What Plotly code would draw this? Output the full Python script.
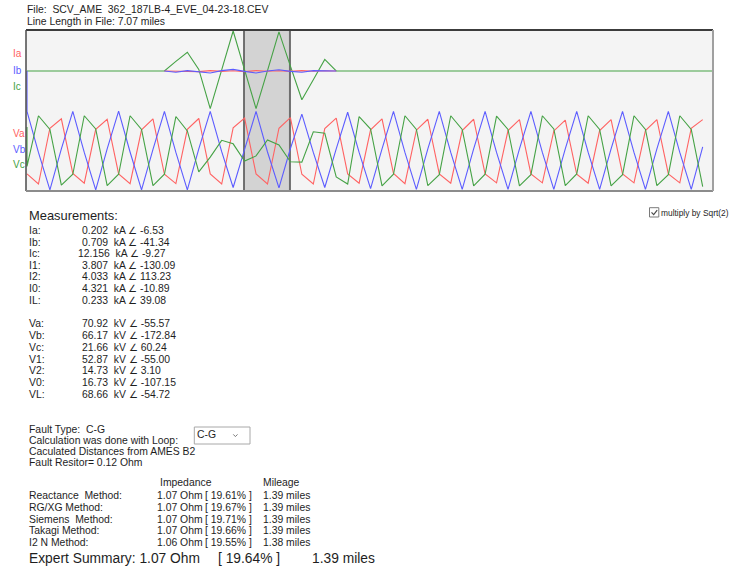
import plotly.graph_objects as go

# ---------------- data ----------------
file_name = "SCV_AME\u00a0 362_187LB-4_EVE_04-23-18.CEV"
line_length = "7.07 miles"

# sample index axis; currents/voltages in per-unit of the plotted peak
va = [-0.59, -0.85, 0.58, 0.82, -0.58, -0.83, 0.55, 0.81, -0.59, -0.84, 0.54, 0.82,
      -0.60, -0.84, 0.55, 0.83, -0.59, -0.85, 0.59, 0.84, -0.59, -0.85, 0.58, 0.85,
      -0.60, -0.85, 0.57, 0.84, -0.59, -0.83, 0.54, 0.82, -0.58, -0.84, 0.53, 0.81,
      -0.59, -0.83, 0.52, 0.81, -0.59, -0.82, 0.52, 0.80, -0.59, -0.82, 0.51, 0.79,
      -0.60, -0.83, 0.52, 0.80, -0.59, -0.82, 0.52, 0.80, -0.59, -0.82, 0.58, 0.80]
vb = [1.01, -0.04, -1.00, 0.05, 1.01, -0.04, -1.00, 0.05, 1.02, -0.03, -1.00, 0.04,
      1.01, -0.04, -1.00, 0.05, 1.01, -0.02, -0.94, 0.04, 1.01, -0.03, -0.95, 0.06,
      0.94, -0.04, -0.94, 0.05, 0.99, -0.04, -0.97, 0.05, 1.01, -0.04, -0.99, 0.05,
      1.01, -0.04, -0.99, 0.05, 1.01, -0.04, -0.99, 0.05, 1.01, -0.04, -0.99, 0.05,
      1.01, -0.04, -0.99, 0.05, 1.01, -0.04, -0.99, 0.05, 1.01, -0.04, -0.99, 0.10]
vc = [-0.40, 0.90, 0.55, -0.88, -0.60, 0.90, 0.56, -0.89, -0.60, 0.90, 0.55, -0.89,
      -0.60, 0.88, 0.51, -0.54, -0.16, 0.27, 0.18, -0.26, -0.13, 0.28, 0.15, -0.28,
      -0.29, 0.49, 0.45, -0.67, -0.85, 0.88, 0.56, -0.90, -0.60, 0.90, 0.55, -0.89,
      -0.61, 0.90, 0.55, -0.90, -0.60, 0.89, 0.55, -0.90, -0.61, 0.90, 0.56, -0.89,
      -0.59, 0.90, 0.55, -0.90, -0.61, 0.90, 0.55, -0.89, -0.61, 0.90, 0.55, -0.92]
vb_start = 2.05   # first drawn point of Vb (glitch at the left edge)
vc_start = 0.61   # first drawn point of Vc

ic = [0, 0, 0, 0, 0, 0, 0, 0, 0, 0, 0, 0,
      0, 0.24, 0.47, 0.04, -0.94, 0.03, 1.00, 0.03, -0.94, 0.01, 0.98, 0.12,
      -0.72, -0.22, 0.29, 0, 0, 0, 0, 0, 0, 0, 0, 0,
      0, 0, 0, 0, 0, 0, 0, 0, 0, 0, 0, 0,
      0, 0, 0, 0, 0, 0, 0, 0, 0, 0, 0, 0, 0]
fault_first_sample = 12
ia_fault = [0, -0.01, -0.005, -0.015, 0.01, -0.01, 0.005, -0.015, 0.01, -0.005, 0.005, -0.01, 0.01, -0.005, 0.005, 0]
ib_fault = [0, -0.03, 0.01, -0.02, -0.05, 0.01, 0.04, -0.01, -0.05, 0.0, 0.03, -0.01, -0.03, 0.01, 0.01, 0]

cursor_start = 18.95
cursor_end = 22.96

current_names = ["Ia", "Ib", "Ic"]
voltage_names = ["Va", "Vb", "Vc"]

meas_current_labels = ["Ia:", "Ib:", "Ic:", "I1:", "I2:", "I0:", "IL:"]
meas_current_mag = ["0.202", "0.709", "12.156", "3.807", "4.033", "4.321", "0.233"]
meas_current_ang = ["-6.53", "-41.34", "-9.27", "-130.09", "113.23", "-10.89", "39.08"]
meas_voltage_labels = ["Va:", "Vb:", "Vc:", "V1:", "V2:", "V0:", "VL:"]
meas_voltage_mag = ["70.92", "66.17", "21.66", "52.87", "14.73", "16.73", "68.66"]
meas_voltage_ang = ["-55.57", "-172.84", "60.24", "-55.00", "3.10", "-107.15", "-54.72"]

fault_type = "C-G"
loop = "C-G"
from_bus = "AMES B2"
fault_resistor = "0.12"

methods = ["Reactance\u00a0 Method:", "RG/XG Method:", "Siemens\u00a0 Method:", "Takagi Method:", "I2 N Method:"]
impedance_ohm = ["1.07", "1.07", "1.07", "1.07", "1.06"]
percent = ["19.61", "19.67", "19.71", "19.66", "19.55"]
mileage = ["1.39", "1.39", "1.39", "1.39", "1.38"]
summary_ohm = "1.07"
summary_pct = "19.64"
summary_miles = "1.39"

# ---------------- styling / layout ----------------
W, H = 730, 569
PL, PR, PT, PB = 26, 713, 30, 191
FONT = "Liberation Sans, Arial, sans-serif"
TXT = "#1e1e1e"
RED, BLUE, GREEN = "#ff6262", "#5c5cff", "#45a245"
SMALL = 10.4
LW = 1.1

def px(x):
    return (x - PL) / (PR - PL)

def py(y):
    return (PB - y) / (PB - PT)

n = len(va)
xs = list(range(n))
fig = go.Figure()

# currents (upper band, yaxis y)
fig.add_trace(go.Scatter(x=list(range(len(ic))), y=ic, mode="lines",
                         line=dict(color=GREEN, width=LW), hoverinfo="skip", yaxis="y"))
fx = list(range(fault_first_sample, fault_first_sample + len(ia_fault)))
fig.add_trace(go.Scatter(x=fx, y=ia_fault, mode="lines",
                         line=dict(color=RED, width=LW), hoverinfo="skip", yaxis="y"))
fig.add_trace(go.Scatter(x=fx, y=ib_fault, mode="lines",
                         line=dict(color=BLUE, width=LW), hoverinfo="skip", yaxis="y"))

# voltages (lower band, yaxis y2)
fig.add_trace(go.Scatter(x=xs, y=va, mode="lines",
                         line=dict(color=RED, width=LW), hoverinfo="skip", yaxis="y2"))
fig.add_trace(go.Scatter(x=[0] + xs, y=[vb_start] + vb, mode="lines",
                         line=dict(color=BLUE, width=LW), hoverinfo="skip", yaxis="y2"))
fig.add_trace(go.Scatter(x=[0] + xs, y=[vc_start] + vc, mode="lines",
                         line=dict(color=GREEN, width=LW), hoverinfo="skip", yaxis="y2"))

spacing = (702.7 - 27) / (n - 1)
x0 = -(27 - PL) / spacing
x1 = x0 + (PR - PL) / spacing

fig.update_layout(
    width=W, height=H,
    margin=dict(l=PL, r=W - PR, t=PT, b=H - PB, pad=0, autoexpand=False),
    paper_bgcolor="white", plot_bgcolor="#f4f4f4",
    showlegend=False,
    xaxis=dict(range=[x0, x1], visible=False, fixedrange=True),
    yaxis=dict(range=[(71 - PB) / 40, (71 - PT) / 40], visible=False, fixedrange=True),
    yaxis2=dict(range=[(150.85 - PB) / 39, (150.85 - PT) / 39], overlaying="y",
                visible=False, fixedrange=True),
)

# cursor window
fig.add_shape(type="rect", xref="x", yref="paper", x0=cursor_start, x1=cursor_end,
              y0=0, y1=1, fillcolor="#d3d3d3", line=dict(width=0), layer="below")
for cx in (cursor_start, cursor_end):
    fig.add_shape(type="line", xref="x", yref="paper", x0=cx, x1=cx, y0=0, y1=1,
                  line=dict(color="#6e6e6e", width=2), layer="below")

# sunken frame
fig.add_shape(type="line", xref="paper", yref="paper", x0=0, x1=1, y0=1, y1=1,
              line=dict(color="#3c3c3c", width=2))
fig.add_shape(type="line", xref="paper", yref="paper", x0=0, x1=0, y0=0, y1=1,
              line=dict(color="#4a4a4a", width=1.5))
fig.add_shape(type="line", xref="paper", yref="paper", x0=0, x1=1, y0=0, y1=0,
              line=dict(color="#8c8c8c", width=2))
fig.add_shape(type="line", xref="paper", yref="paper", x0=1, x1=1, y0=0, y1=1,
              line=dict(color="#a0a0a0", width=2))


def txt(s, x, y, size=SMALL, color=TXT, anchor="left"):
    fig.add_annotation(text=s, x=px(x), y=py(y), xref="paper", yref="paper",
                       xanchor=anchor, yanchor="middle", showarrow=False,
                       font=dict(family=FONT, size=size, color=color),
                       borderpad=0, borderwidth=0)


# channel labels
for name, yy, col in zip(current_names, [54, 70, 86], [RED, BLUE, GREEN]):
    txt(name, 12.5, yy, size=10, color=col)
for name, yy, col in zip(voltage_names, [133.5, 149, 164.5], [RED, BLUE, GREEN]):
    txt(name, 12.5, yy, size=10, color=col)

# header
txt(f"File:\u00a0 {file_name}", 27, 9.5)
txt(f"Line Length in File: {line_length}", 27, 21)

# checkbox
fig.add_shape(type="rect", xref="paper", yref="paper",
              x0=px(649.5), x1=px(658.8), y0=py(217), y1=py(207.7),
              line=dict(color="#7a7a7a", width=1), fillcolor="white")
fig.add_shape(type="path", xref="paper", yref="paper",
              path=f"M {px(651.5)} {py(212.3)} L {px(653.7)} {py(214.6)} L {px(657.2)} {py(210.2)}",
              line=dict(color="#4a4a4a", width=1.2))
txt("multiply by Sqrt(2)", 661.3, 212.6, size=8.4)

# measurements
txt("Measurements:", 29.3, 215, size=12.9)
for i, (lab, mag, ang) in enumerate(zip(meas_current_labels, meas_current_mag, meas_current_ang)):
    yy = 230.5 + 11.6 * i
    txt(lab, 29.3, yy)
    txt(f"{mag}\u00a0 kA \u2220 {ang}", 81.7 - (3.4 if len(mag) > 5 else 0), yy)
for i, (lab, mag, ang) in enumerate(zip(meas_voltage_labels, meas_voltage_mag, meas_voltage_ang)):
    yy = 323.5 + 11.85 * i
    txt(lab, 29.3, yy)
    txt(f"{mag}\u00a0 kV \u2220 {ang}", 81.7, yy)

# fault info
txt(f"Fault Type:\u00a0 {fault_type}", 29.3, 429.5)
txt("Calculation was done with Loop:", 29.3, 440.5)
txt(f"Caculated Distances from {from_bus}", 29.3, 451.5)
txt(f"Fault Resitor= {fault_resistor} Ohm", 29.3, 462.5)

# loop dropdown
fig.add_shape(type="rect", xref="paper", yref="paper",
              x0=px(194.3), x1=px(250), y0=py(444), y1=py(427),
              line=dict(color="#a8a8a8", width=1), fillcolor="white")
txt(loop, 197, 435)
fig.add_shape(type="path", xref="paper", yref="paper",
              path=f"M {px(233.3)} {py(434.4)} L {px(235.4)} {py(436.6)} L {px(237.5)} {py(434.4)}",
              line=dict(color="#7a7a7a", width=1))

# method table
txt("Impedance", 160, 482.5)
txt("Mileage", 263.3, 482.5)
for i, (m, z, p, mi) in enumerate(zip(methods, impedance_ohm, percent, mileage)):
    yy = 495.8 + 11.65 * i
    txt(m, 29.3, yy)
    txt(f"{z} Ohm", 157.3, yy)
    txt(f"[ {p}% ]", 204.5, yy)
    txt(f"{mi} miles", 263.3, yy)

# expert summary
txt(f"Expert Summary: {summary_ohm} Ohm", 29.3, 558.5, size=13.8)
txt(f"[ {summary_pct}% ]", 218.3, 558.5, size=13.8)
txt(f"{summary_miles} miles", 311.7, 558.5, size=13.8)

fig.write_html("out.html", config={"displayModeBar": False},
               post_script="document.body.style.margin='0';document.body.style.padding='0';")
